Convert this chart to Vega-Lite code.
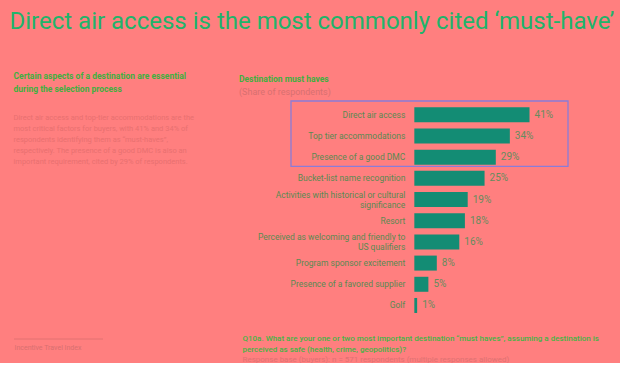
{
  "$schema": "https://vega.github.io/schema/vega-lite/v6.json",
  "background": "#FF7F7F",
  "padding": {"left": 9, "top": 10, "right": 5, "bottom": 0},
  "config": {"view": {"stroke": null}, "font": "Roboto"},
  "title": {
    "text": "Direct air access is the most commonly cited ‘must-have’",
    "anchor": "start",
    "fontSize": 24,
    "fontWeight": "normal",
    "color": "#20B46A",
    "dx": -4,
    "offset": 38
  },
  "spacing": 45,
  "hconcat": [
    {
      "width": 89,
      "height": 243,
      "title": {
        "text": ["Certain aspects of a destination are essential", "during the selection process"],
        "subtitle": [
          "Direct air access and top-tier accommodations are the",
          "most critical factors for buyers, with 41% and 34% of",
          "respondents identifying them as “must-haves”,",
          "respectively. The presence of a good DMC is also an",
          "important requirement, cited by 29% of respondents."
        ],
        "anchor": "start",
        "fontSize": 8.5,
        "fontWeight": "bold",
        "color": "#40B040",
        "lineHeight": 13,
        "subtitleFontSize": 7.5,
        "subtitleColor": "#E87070",
        "subtitleLineHeight": 11,
        "subtitlePadding": 20,
        "offset": -69
      },
      "data": {"values": [{"start": 0, "end": 1}]},
      "mark": {"type": "rule", "color": "#E27272", "strokeWidth": 1},
      "encoding": {
        "x": {
          "field": "start",
          "type": "quantitative",
          "scale": {"domain": [0, 1], "nice": false},
          "axis": {
            "title": "Incentive Travel Index",
            "labels": false,
            "ticks": false,
            "domain": false,
            "grid": false,
            "titleAnchor": "start",
            "titleFontSize": 7,
            "titleFontWeight": "normal",
            "titleColor": "#D87070",
            "titlePadding": 4
          }
        },
        "x2": {"field": "end"},
        "y": {"datum": 0, "type": "quantitative", "scale": {"domain": [0, 1], "nice": false}, "axis": null}
      }
    },
    {
      "width": 277,
      "height": 214,
      "title": {
        "text": "Destination must haves",
        "subtitle": "(Share of respondents)",
        "anchor": "start",
        "dx": -3,
        "fontSize": 8.5,
        "fontWeight": "bold",
        "color": "#40B040",
        "subtitleFontSize": 9,
        "subtitleColor": "#D87070",
        "subtitlePadding": 5,
        "offset": -1
      },
      "layer": [
        {
          "data": {
            "values": [
              {"rank": 1, "label": "Direct air access", "share": 0.41},
              {"rank": 2, "label": "Top tier accommodations", "share": 0.34},
              {"rank": 3, "label": "Presence of a good DMC", "share": 0.29},
              {"rank": 4, "label": "Bucket-list name recognition", "share": 0.25},
              {"rank": 5, "label": "Activities with historical or cultural\nsignificance", "share": 0.19},
              {"rank": 6, "label": "Resort", "share": 0.18},
              {"rank": 7, "label": "Perceived as welcoming and friendly to\nUS qualifiers", "share": 0.16},
              {"rank": 8, "label": "Program sponsor excitement", "share": 0.08},
              {"rank": 9, "label": "Presence of a favored supplier", "share": 0.05},
              {"rank": 10, "label": "Golf", "share": 0.01}
            ]
          },
          "encoding": {
            "y": {
              "field": "rank",
              "type": "quantitative",
              "scale": {"domain": [0.114, 10.214], "reverse": true, "nice": false, "zero": false, "padding": 0},
              "axis": null
            }
          },
          "layer": [
            {
              "mark": {"type": "bar", "orient": "horizontal", "size": 15, "color": "#138C74"},
              "encoding": {
                "x": {
                  "field": "share",
                  "type": "quantitative",
                  "scale": {"domain": [-0.439, 0.547], "nice": false},
                  "axis": {
                    "orient": "bottom",
                    "title": "Response base (buyers): n = 571 respondents (multiple responses allowed)",
                    "labels": false,
                    "ticks": false,
                    "domain": false,
                    "grid": false,
                    "titleAnchor": "start",
                    "titleAlign": "left",
                    "titleX": -49,
                    "titleFontSize": 8,
                    "titleFontWeight": "normal",
                    "titleColor": "#E07272",
                    "titlePadding": 45
                  }
                }
              }
            },
            {
              "mark": {"type": "text", "align": "left", "baseline": "middle", "dx": 5, "fontSize": 10, "color": "#668C5E"},
              "encoding": {
                "x": {"field": "share", "type": "quantitative"},
                "text": {"field": "share", "type": "quantitative", "format": ".0%"}
              }
            },
            {
              "transform": [{"filter": "indexof(datum.label, '\\n') < 0"}],
              "mark": {"type": "text", "align": "right", "baseline": "middle", "dx": -9, "fontSize": 8.5, "color": "#5A8A52"},
              "encoding": {
                "x": {"datum": 0, "type": "quantitative"},
                "text": {"field": "label", "type": "nominal"}
              }
            },
            {
              "transform": [{"filter": "indexof(datum.label, '\\n') >= 0"}],
              "mark": {"type": "text", "align": "right", "baseline": "middle", "dx": -9, "dy": -5, "fontSize": 8.5, "lineBreak": "\n", "lineHeight": 10, "color": "#5A8A52"},
              "encoding": {
                "x": {"datum": 0, "type": "quantitative"},
                "text": {"field": "label", "type": "nominal"}
              }
            }
          ]
        },
        {
          "data": {"values": [{"group": "Top three"}]},
          "mark": {"type": "rect", "fill": "transparent", "stroke": "#8A7CD8", "strokeWidth": 1.3},
          "encoding": {
            "x": {
              "datum": -0.439,
              "type": "quantitative",
              "scale": {"domain": [-0.439, 0.547], "nice": false},
              "axis": {
                "orient": "bottom",
                "title": [
                  "Q10a. What are your one or two most important destination “must haves”, assuming a destination is",
                  "perceived as safe (health, crime, geopolitics)?"
                ],
                "labels": false,
                "ticks": false,
                "domain": false,
                "grid": false,
                "titleAnchor": "start",
                "titleAlign": "left",
                "titleX": -49,
                "titleFontSize": 8,
                "titleFontWeight": 500,
                "titleColor": "#46B446",
                "titleLineHeight": 11,
                "titlePadding": 24
              }
            },
            "x2": {"datum": 0.547},
            "y": {"datum": 0.35},
            "y2": {"datum": 3.44}
          }
        }
      ],
      "resolve": {"scale": {"x": "independent"}, "axis": {"x": "independent"}}
    }
  ]
}
